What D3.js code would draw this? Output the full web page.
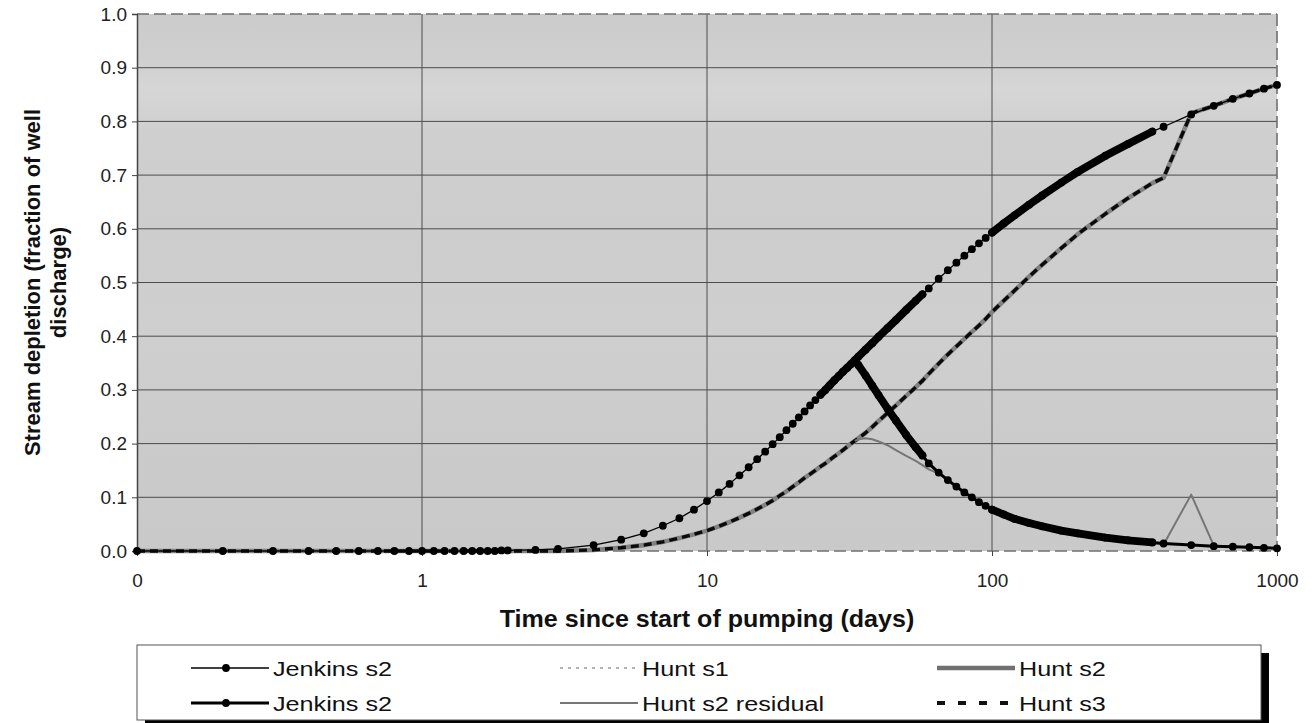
<!DOCTYPE html>
<html>
<head>
<meta charset="utf-8">
<script src="https://cdn.jsdelivr.net/npm/d3@7/dist/d3.min.js"></script>
<style>
  html, body { margin: 0; padding: 0; background: #ffffff; }
  svg { display: block; font-family: "Liberation Sans", Arial, Helvetica, sans-serif; }
</style>
</head>
<body>
<svg id="chart" width="1314" height="723"></svg>
<script>
// ---------------- data ----------------
const tDays = [
  0.1, 0.2, 0.3, 0.4, 0.5, 0.6, 0.7, 0.8, 0.9, 1.0,
  1.1, 1.2, 1.3, 1.4, 1.5, 1.6, 1.7, 1.8, 1.9, 2.0,
  2.5, 3, 4, 5, 6, 7, 8, 9, 10, 11,
  12, 13, 14, 15, 16, 17, 18, 19, 20, 21,
  22, 23, 24, 25, 26, 27, 28, 29, 30, 31,
  32, 33, 34, 36, 38, 40, 43, 46, 50, 54,
  57, 60, 65, 70, 75, 80, 85, 90, 95, 100,
  110, 120, 135, 150, 175, 200, 250, 300, 365, 400,
  500, 600, 700, 800, 900, 1000
];

// Jenkins s2 (thin line, markers) - continuous pumping curve
const jenkinsThin = [
  0, 0, 0, 0, 0, 0, 0, 0, 0, 0,
  0, 0, 0, 0, 0, 0, 0, 0, 0.001, 0.001,
  0.002, 0.004, 0.011, 0.021, 0.033, 0.047, 0.061, 0.077, 0.093, 0.109,
  0.125, 0.141, 0.156, 0.171, 0.185, 0.199, 0.212, 0.225, 0.237, 0.249,
  0.260, 0.271, 0.281, 0.291, 0.300, 0.309, 0.318, 0.326, 0.334, 0.341,
  0.348, 0.355, 0.362, 0.375, 0.387, 0.399, 0.415, 0.430, 0.449, 0.466,
  0.478, 0.489, 0.507, 0.523, 0.537, 0.550, 0.562, 0.573, 0.583, 0.593,
  0.610, 0.625, 0.645, 0.662, 0.686, 0.706, 0.736, 0.758, 0.781, 0.790,
  0.813, 0.829, 0.842, 0.852, 0.861, 0.868
];

// Jenkins s2 (thick line, markers) - after pumping stops
const jenkinsThick = [
  null, null, null, null, null, null, null, null, null, null,
  null, null, null, null, null, null, null, null, null, null,
  null, null, null, null, null, null, null, null, null, null,
  null, null, null, null, null, null, null, null, null, null,
  null, null, null, null, null, null, null, null, null, null,
  null, 0.355, 0.346, 0.327, 0.308, 0.290, 0.265, 0.243, 0.216, 0.193,
  0.178, 0.163, 0.146, 0.132, 0.120, 0.109, 0.100, 0.091, 0.084, 0.077,
  0.068, 0.060, 0.052, 0.046, 0.038, 0.033, 0.025, 0.020, 0.016, 0.014,
  0.011, 0.009, 0.008, 0.007, 0.006, 0.005
];

// Hunt s2 (thick grey line)
const huntS2 = [
  0, 0, 0, 0, 0, 0, 0, 0, 0, 0,
  0, 0, 0, 0, 0, 0, 0, 0, 0, 0,
  0, 0, 0.002, 0.006, 0.011, 0.017, 0.024, 0.031, 0.038, 0.046,
  0.054, 0.062, 0.070, 0.078, 0.086, 0.094, 0.103, 0.111, 0.120, 0.128,
  0.136, 0.143, 0.150, 0.157, 0.163, 0.170, 0.176, 0.182, 0.188, 0.194,
  0.200, 0.205, 0.210, 0.220, 0.231, 0.242, 0.257, 0.271, 0.289, 0.305,
  0.317, 0.330, 0.349, 0.366, 0.381, 0.395, 0.408, 0.420, 0.432, 0.445,
  0.466, 0.485, 0.511, 0.533, 0.564, 0.590, 0.628, 0.657, 0.685, 0.695,
  0.815, 0.829, 0.842, 0.852, 0.861, 0.868
];

// Hunt s1 (light dotted) coincides with the Jenkins curve; Hunt s3 (black dashes) with Hunt s2
const huntS1 = jenkinsThin.slice();
const huntS3 = huntS2.slice();

// Hunt s2 residual (thin grey line)
const huntS2Residual = [
  null, null, null, null, null, null, null, null, null, null,
  null, null, null, null, null, null, null, null, null, null,
  null, null, null, null, null, null, null, null, null, null,
  null, null, null, null, null, null, null, null, null, null,
  null, null, null, null, null, null, null, null, null, null,
  null, 0.205, 0.208, 0.210, 0.208, 0.204, 0.197, 0.188, 0.177, 0.168,
  0.160, 0.152, 0.144, 0.132, 0.120, 0.109, 0.100, 0.091, 0.084, 0.077,
  0.068, 0.060, 0.052, 0.046, 0.038, 0.033, 0.025, 0.020, 0.016, 0.012,
  0.105, 0.010, 0.008, 0.007, 0.006, 0.005
];

// time ranges where the daily markers overlap into a solid band
const denseRanges = [[25, 57], [100, 365]];

const xTickValues = [0.1, 1, 10, 100, 1000];
const xTickLabels = ["0", "1", "10", "100", "1000"];
const yTickValues = [0, 0.1, 0.2, 0.3, 0.4, 0.5, 0.6, 0.7, 0.8, 0.9, 1.0];

const xTitle = "Time since start of pumping (days)";
const yTitleLines = ["Stream depletion (fraction of well", "discharge)"];

const legendItems = [
  { name: "Jenkins s2", key: "jThin" },
  { name: "Hunt s1", key: "hS1" },
  { name: "Hunt s2", key: "hS2" },
  { name: "Jenkins s2", key: "jThick" },
  { name: "Hunt s2 residual", key: "hRes" },
  { name: "Hunt s3", key: "hS3" }
];

// ---------------- layout ----------------
const svg = d3.select("#chart");
const plot = { left: 137, right: 1277, top: 14, bottom: 551 };

const x = d3.scaleLog().domain([0.1, 1000]).range([plot.left, plot.right]);
const y = d3.scaleLinear().domain([0, 1]).range([plot.bottom, plot.top]);

// background gradient
const defs = svg.append("defs");
const grad = defs.append("linearGradient").attr("id", "bg")
  .attr("x1", 0).attr("y1", 0).attr("x2", 0).attr("y2", 1);
[[0, "#cbcbcb"], [0.08, "#cfcfcf"], [0.14, "#d6d6d6"], [0.22, "#cfcfcf"],
 [0.4, "#cdcdcd"], [0.6, "#cfcfcf"], [0.8, "#cbcbcb"], [1, "#c9c9c9"]]
  .forEach(([o, c]) => grad.append("stop").attr("offset", o).attr("stop-color", c));

svg.append("rect")
  .attr("x", plot.left).attr("y", plot.top)
  .attr("width", plot.right - plot.left).attr("height", plot.bottom - plot.top)
  .attr("fill", "url(#bg)");

// gridlines
svg.append("g").selectAll("line").data(yTickValues.filter(v => v > 0 && v < 1)).join("line")
  .attr("x1", plot.left).attr("x2", plot.right)
  .attr("y1", d => y(d)).attr("y2", d => y(d))
  .attr("stroke", "#4c4c4c").attr("stroke-width", 1);
svg.append("g").selectAll("line").data(xTickValues.filter(v => v > 0.1 && v < 1000)).join("line")
  .attr("x1", d => x(d)).attr("x2", d => x(d))
  .attr("y1", plot.top).attr("y2", plot.bottom)
  .attr("stroke", "#4c4c4c").attr("stroke-width", 1);

// plot border (dashed, as printed)
const border = svg.append("g").attr("fill", "none").attr("stroke", "#707070")
  .attr("stroke-width", 1.6).attr("stroke-dasharray", "12,5");
border.append("line").attr("x1", plot.left).attr("x2", plot.right).attr("y1", plot.top).attr("y2", plot.top);
border.append("line").attr("x1", plot.right).attr("x2", plot.right).attr("y1", plot.top).attr("y2", plot.bottom);
border.append("line").attr("x1", plot.left).attr("x2", plot.right).attr("y1", plot.bottom).attr("y2", plot.bottom);

// axes
const yAxis = d3.axisLeft(y).tickValues(yTickValues).tickFormat(d3.format(".1f")).tickSize(5).tickPadding(5);
const gy = svg.append("g").attr("transform", `translate(${plot.left},0)`).call(yAxis);
gy.select(".domain").attr("stroke", "#444").attr("stroke-width", 1.5);
gy.selectAll(".tick line").attr("stroke", "#444");
gy.selectAll("text").attr("font-size", 19).attr("fill", "#222")
  .attr("font-family", "'Liberation Sans', Arial, sans-serif");

const xAxis = d3.axisBottom(x).tickValues(xTickValues)
  .tickFormat((d, i) => xTickLabels[i]).tickSize(5).tickPadding(18);
const gx = svg.append("g").attr("transform", `translate(0,${plot.bottom})`).call(xAxis);
gx.select(".domain").remove();
gx.selectAll(".tick line").attr("stroke", "#444");
gx.selectAll("text").attr("font-size", 19).attr("fill", "#222")
  .attr("font-family", "'Liberation Sans', Arial, sans-serif");

// ---------------- series ----------------
function pts(vals) {
  return tDays.map((t, i) => ({ t, v: vals[i] }));
}
const line = d3.line().defined(d => d.v != null).x(d => x(d.t)).y(d => y(d.v));
const series = svg.append("g");

// Hunt s1 (light grey dotted, under the Jenkins curve)
series.append("path").attr("d", line(pts(huntS1)))
  .attr("fill", "none").attr("stroke", "#b4b4b4").attr("stroke-width", 1.6)
  .attr("stroke-dasharray", "3,5");
// Hunt s2 (thick grey)
series.append("path").attr("d", line(pts(huntS2)))
  .attr("fill", "none").attr("stroke", "#828282").attr("stroke-width", 4.6)
  .attr("stroke-linejoin", "round");
// Hunt s3 (black dashes)
series.append("path").attr("d", line(pts(huntS3)))
  .attr("fill", "none").attr("stroke", "#0a0a0a").attr("stroke-width", 3.4)
  .attr("stroke-dasharray", "8,5");
// Hunt s2 residual (thin grey)
series.append("path").attr("d", line(pts(huntS2Residual)))
  .attr("fill", "none").attr("stroke", "#767676").attr("stroke-width", 2)
  .attr("stroke-linejoin", "round");

function drawJenkins(vals, width) {
  const p = pts(vals);
  series.append("path").attr("d", line(p))
    .attr("fill", "none").attr("stroke", "#000").attr("stroke-width", width)
    .attr("stroke-linejoin", "round");
  denseRanges.forEach(([a, b]) => {
    const seg = p.filter(d => d.v != null && d.t >= a && d.t <= b);
    if (seg.length > 1) {
      series.append("path").attr("d", line(seg))
        .attr("fill", "none").attr("stroke", "#000").attr("stroke-width", 7.8)
        .attr("stroke-linecap", "round").attr("stroke-linejoin", "round");
    }
  });
  series.append("g").selectAll("circle").data(p.filter(d => d.v != null)).join("circle")
    .attr("cx", d => x(d.t)).attr("cy", d => y(d.v)).attr("r", 3.9).attr("fill", "#000");
}
drawJenkins(jenkinsThin, 1.3);
drawJenkins(jenkinsThick, 3);

// ---------------- titles ----------------
svg.append("text")
  .attr("transform", `translate(${(plot.left + plot.right) / 2},627) scale(1.09,1)`)
  .attr("text-anchor", "middle").attr("font-size", 23).attr("font-weight", "bold")
  .attr("fill", "#111").text(xTitle);

const yMid = (plot.top + plot.bottom) / 2;
[32, 58].forEach((cx, i) => {
  svg.append("text")
    .attr("transform", `translate(${cx + 8},${yMid}) rotate(-90)`)
    .attr("text-anchor", "middle").attr("font-size", 22).attr("font-weight", "bold")
    .attr("fill", "#111").text(yTitleLines[i]);
});

// ---------------- legend ----------------
const lg = { x: 137, y: 645, w: 1124, h: 75 };
svg.append("rect").attr("x", lg.x + 8).attr("y", lg.y + 8).attr("width", lg.w).attr("height", lg.h).attr("fill", "#000");
svg.append("rect").attr("x", lg.x).attr("y", lg.y).attr("width", lg.w).attr("height", lg.h)
  .attr("fill", "#fff").attr("stroke", "#555").attr("stroke-width", 1);

const colX = [191, 560, 937];
const rowY = [668, 703];
const sampleW = 78;
legendItems.forEach((it, i) => {
  const col = i % 3, row = Math.floor(i / 3);
  const x0 = colX[col], yy = rowY[row];
  const g = svg.append("g");
  const ln = g.append("line").attr("x1", x0).attr("x2", x0 + sampleW).attr("y1", yy).attr("y2", yy).attr("fill", "none");
  if (it.key === "jThin") {
    ln.attr("stroke", "#000").attr("stroke-width", 1.3);
    g.append("circle").attr("cx", x0 + sampleW / 2 - 4).attr("cy", yy).attr("r", 3.9).attr("fill", "#000");
  } else if (it.key === "jThick") {
    ln.attr("stroke", "#000").attr("stroke-width", 3);
    g.append("circle").attr("cx", x0 + sampleW / 2 - 4).attr("cy", yy).attr("r", 3.9).attr("fill", "#000");
  } else if (it.key === "hS1") {
    ln.attr("stroke", "#9a9a9a").attr("stroke-width", 1.6).attr("stroke-dasharray", "3,5");
  } else if (it.key === "hS2") {
    ln.attr("stroke", "#707070").attr("stroke-width", 4.6);
  } else if (it.key === "hRes") {
    ln.attr("stroke", "#767676").attr("stroke-width", 2);
  } else if (it.key === "hS3") {
    ln.attr("stroke", "#111").attr("stroke-width", 4).attr("stroke-dasharray", "8,13");
  }
  g.append("text")
    .attr("transform", `translate(${x0 + sampleW + 4},${yy + 7.5}) scale(1.2,1)`)
    .attr("font-size", 21).attr("fill", "#111").text(it.name);
});
</script>
</body>
</html>
